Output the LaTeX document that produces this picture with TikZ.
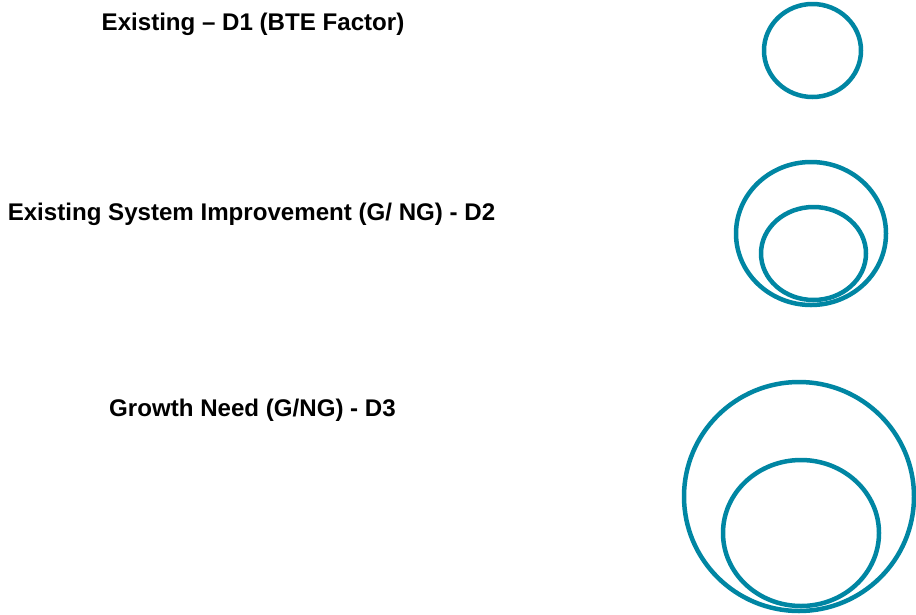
\documentclass[tikz,border=0pt]{standalone}
\usepackage{fontspec}
\setmainfont{Liberation Sans}
\begin{document}
\begin{tikzpicture}[x=1pt,y=-1pt,
  ring/.style={draw=ringteal,line width=4.5pt},
  label/.style={font=\fontsize{24.1}{28}\selectfont\bfseries,anchor=base,inner sep=0pt}]
\definecolor{ringteal}{RGB}{0,134,163}
\useasboundingbox[fill=white] (0,0) rectangle (916,614);
% level labels
\node[label] (d1) at (253,30) {Existing -- D1 (BTE Factor)};
\node[label] (d2) at (251.5,220) {Existing System Improvement (G/ NG) - D2};
\node[label] (d3) at (252.5,416) {Growth Need (G/NG) - D3};
% single ring
\draw[ring] (812.5,50.5) ellipse [x radius=48.5, y radius=46.5];
% two nested rings
\draw[ring] (811,233.5) ellipse [x radius=75, y radius=71.5];
\draw[ring] (813.5,253.5) ellipse [x radius=52.5, y radius=46.5];
% large nested rings
\draw[ring] (799,496.5) ellipse [x radius=115, y radius=114.5];
\draw[ring] (801,533) ellipse [x radius=78, y radius=73];
\end{tikzpicture}
\end{document}
